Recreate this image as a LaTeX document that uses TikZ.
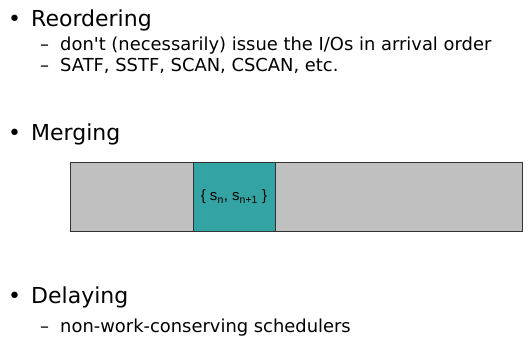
\documentclass[tikz,border=0pt]{standalone}
\usepackage{fontspec}
\setmainfont{DejaVu Sans}
\newfontfamily\boxfont{Liberation Sans}
\usetikzlibrary{positioning}
\definecolor{slotgray}{RGB}{192,192,192}
\definecolor{slotteal}{RGB}{51,163,163}

\begin{document}
\begin{tikzpicture}[x=1pt, y=-1pt, text=black,
	toptext/.style={anchor=base west, inner sep=0pt, font=\fontsize{22}{26}\selectfont},
	subtext/.style={anchor=base west, inner sep=0pt, font=\fontsize{17.9}{21}\selectfont},
	slot/.style={draw=black!80, thick}]
\useasboundingbox (0,0) rectangle (531,340);
\def \bulletx {8}
\def \textx {31}
\def \dashx {40}
\def \subx {60}

%Reordering
\node[toptext] (bulreorder) at (\bulletx,26.7) {•};
\node[toptext] (reorder) at (\textx,26.7) {Reordering};
\node[subtext] (dashone) at (\dashx,50) {–};
\node[subtext] (subone) at (\subx,50) {don\textquotesingle t (necessarily) issue the I/Os in arrival order};
\node[subtext] (dashtwo) at (\dashx,71) {–};
\node[subtext] (subtwo) at (\subx,71) {SATF, SSTF, SCAN, CSCAN, etc.};

%Merging
\node[toptext] (bulmerge) at (\bulletx,140) {•};
\node[toptext] (merge) at (\textx,140) {Merging};
\draw[slot, fill=slotgray] (70,162) rectangle (522,231);
\draw[slot, fill=slotteal] (193,162) rectangle (275,231);
\node[inner sep=0pt, font=\boxfont\fontsize{15}{17}\selectfont] (pair) at (234,197) {\{ s\textsubscript{n}, s\textsubscript{n+1} \}};

%Delaying
\node[toptext] (buldelay) at (\bulletx,303) {•};
\node[toptext] (delay) at (\textx,303) {Delaying};
\node[subtext] (dashthree) at (\dashx,332) {–};
\node[subtext] (subthree) at (\subx,332) {non-work-conserving schedulers};

\end{tikzpicture}
\end{document}
